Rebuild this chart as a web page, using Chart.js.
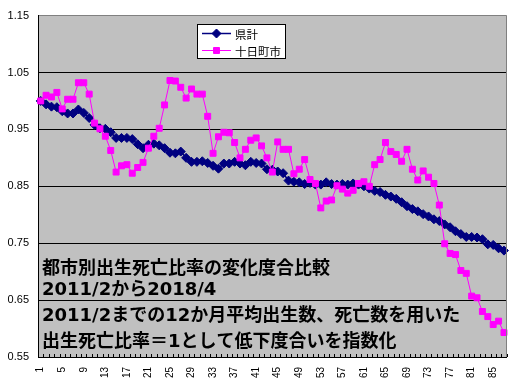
<!DOCTYPE html>
<html>
<head>
<meta charset="utf-8">
<script src="https://cdn.jsdelivr.net/npm/chart.js@4.4.0/dist/chart.umd.min.js"></script>
<style>
html, body { margin: 0; padding: 0; background: #fff; }
</style>
</head>
<body>
<canvas id="chart1" width="526" height="385"></canvas>
<script>
// months since 2011/2 (1 .. 87)
const months = Array.from({ length: 87 }, (_, i) => i + 1);

const kenkei = [
    1.000, 0.994, 0.990, 0.989, 0.982, 0.978, 0.978, 0.985, 0.979, 0.970,
    0.958, 0.952, 0.951, 0.945, 0.935, 0.935, 0.935, 0.933, 0.924, 0.917,
    0.923, 0.925, 0.922, 0.917, 0.909, 0.908, 0.911, 0.900, 0.893, 0.893,
    0.894, 0.891, 0.886, 0.881, 0.890, 0.890, 0.893, 0.890, 0.887, 0.893,
    0.891, 0.890, 0.880, 0.879, 0.876, 0.873, 0.860, 0.858, 0.857, 0.854,
    0.856, 0.853, 0.853, 0.857, 0.854, 0.853, 0.854, 0.853, 0.855, 0.853,
    0.850, 0.846, 0.842, 0.840, 0.835, 0.832, 0.828, 0.822, 0.815, 0.810,
    0.806, 0.801, 0.797, 0.792, 0.789, 0.783, 0.778, 0.771, 0.766, 0.761,
    0.761, 0.760, 0.757, 0.748, 0.747, 0.741, 0.737
];

const tokamachi = [
    1.000, 1.010, 1.007, 1.015, 0.986, 1.003, 1.003, 1.032, 1.032, 1.012,
    0.961, 0.951, 0.938, 0.913, 0.875, 0.886, 0.888, 0.873, 0.883, 0.892,
    0.917, 0.938, 0.952, 0.993, 1.036, 1.035, 1.024, 1.005, 1.021, 1.012,
    1.012, 0.973, 0.908, 0.937, 0.945, 0.944, 0.927, 0.900, 0.915, 0.931,
    0.935, 0.921, 0.900, 0.875, 0.928, 0.915, 0.915, 0.872, 0.880, 0.897,
    0.862, 0.855, 0.812, 0.824, 0.826, 0.851, 0.845, 0.838, 0.843, 0.855,
    0.858, 0.850, 0.888, 0.897, 0.927, 0.911, 0.906, 0.894, 0.915, 0.880,
    0.861, 0.877, 0.866, 0.855, 0.817, 0.749, 0.732, 0.730, 0.702, 0.697,
    0.657, 0.654, 0.630, 0.621, 0.607, 0.613, 0.593
];

const yMin = 0.55;
const yMax = 1.15;
const yStep = 0.1;

const noteLines = [
    '都市別出生死亡比率の変化度合比較',
    '2011/2から2018/4',
    '2011/2までの12か月平均出生数、死亡数を用いた',
    '出生死亡比率＝1として低下度合いを指数化'
];
const noteY = [269, 290, 316, 342];

// grey plot area, right border and small category ticks
const plotArea = {
    id: 'plotArea',
    beforeDraw(chart) {
        const { ctx, chartArea: a } = chart;
        ctx.save();
        ctx.fillStyle = '#c0c0c0';
        ctx.fillRect(a.left, a.top, a.right - a.left, a.bottom - a.top);
        ctx.restore();
    },
    afterDatasetsDraw(chart) {
        const { ctx, chartArea: a } = chart;
        const xs = chart.scales.x;
        const w = (a.right - a.left) / months.length;
        ctx.save();
        ctx.strokeStyle = '#808080';
        ctx.lineWidth = 1;
        ctx.beginPath();
        ctx.moveTo(Math.round(a.right) - 0.5, a.top);
        ctx.lineTo(Math.round(a.right) - 0.5, a.bottom);
        ctx.stroke();
        ctx.strokeStyle = '#000';
        ctx.beginPath();
        for (let i = 0; i <= months.length; i++) {
            const x = Math.round(xs.getPixelForValue(i) - w / 2) + 0.5;
            ctx.moveTo(x, a.bottom);
            ctx.lineTo(x, a.bottom - 3);
        }
        ctx.stroke();

        ctx.fillStyle = '#000';
        ctx.font = 'bold 18px "DejaVu Sans", "Noto Sans CJK JP", sans-serif';
        ctx.textBaseline = 'middle';
        noteLines.forEach((t, i) => ctx.fillText(t, 42, noteY[i]));
        ctx.restore();
    }
};

const legendBox = {
    id: 'legendBox',
    afterDraw(chart) {
        const ctx = chart.ctx;
        ctx.save();
        ctx.fillStyle = '#fff';
        ctx.fillRect(197.5, 24.5, 88, 34);
        ctx.strokeStyle = '#000';
        ctx.lineWidth = 1;
        ctx.strokeRect(197.5, 24.5, 88, 34);
        chart.data.datasets.forEach((ds, i) => {
            const y = 33.5 + i * 17;
            ctx.strokeStyle = ds.borderColor;
            ctx.fillStyle = ds.backgroundColor;
            ctx.lineWidth = ds.borderWidth;
            ctx.beginPath();
            ctx.moveTo(202, y);
            ctx.lineTo(231, y);
            ctx.stroke();
            ctx.lineWidth = 1;
            Chart.helpers.drawPoint(ctx, {
                pointStyle: ds.pointStyle,
                radius: ds.pointRadius,
                borderWidth: 1,
                rotation: 0
            }, 216.5, y);
            ctx.fillStyle = '#000';
            ctx.font = '11.5px "Noto Sans CJK JP", sans-serif';
            ctx.textBaseline = 'middle';
            ctx.fillText(ds.label, 235, y + 1);
        });
        ctx.restore();
    }
};

new Chart(document.getElementById('chart1'), {
    type: 'line',
    data: {
        labels: months,
        datasets: [{
            label: '県計',
            data: kenkei,
            borderColor: '#000080',
            backgroundColor: '#000080',
            borderWidth: 1.5,
            pointStyle: 'rectRot',
            pointRadius: 4.5,
            pointBorderWidth: 1,
            order: 1
        }, {
            label: '十日町市',
            data: tokamachi,
            borderColor: '#ff00ff',
            backgroundColor: '#ff00ff',
            borderWidth: 1,
            pointStyle: 'rect',
            pointRadius: 4.2,
            pointBorderWidth: 1,
            order: 0
        }]
    },
    options: {
        responsive: false,
        animation: false,
        devicePixelRatio: 1,
        layout: { padding: { top: 12, right: 4, left: 0, bottom: 0 } },
        plugins: { legend: { display: false }, tooltip: { enabled: false } },
        scales: {
            x: {
                offset: true,
                grid: { display: false, drawTicks: false },
                border: { color: '#000', width: 1 },
                afterFit(scale) { scale.height = 28; },
                ticks: {
                    autoSkip: false,
                    minRotation: 90,
                    maxRotation: 90,
                    padding: 10,
                    color: '#000',
                    font: { family: '"Liberation Sans", Arial, sans-serif', size: 10 },
                    callback: (v, i) => (i % 4 === 0 ? String(months[i]) : '')
                }
            },
            y: {
                min: yMin,
                max: yMax,
                grid: {
                    drawTicks: false,
                    color: (c) => (Math.abs(c.tick.value - yMax) < 1e-6 ? '#808080' : '#000')
                },
                border: { color: '#000', width: 1 },
                afterFit(scale) { scale.width = 38; },
                ticks: {
                    stepSize: yStep,
                    padding: 9,
                    color: '#000',
                    font: { family: '"Liberation Sans", Arial, sans-serif', size: 11 },
                    callback: (v) => v.toFixed(2)
                }
            }
        }
    },
    plugins: [plotArea, legendBox]
});
</script>
</body>
</html>
